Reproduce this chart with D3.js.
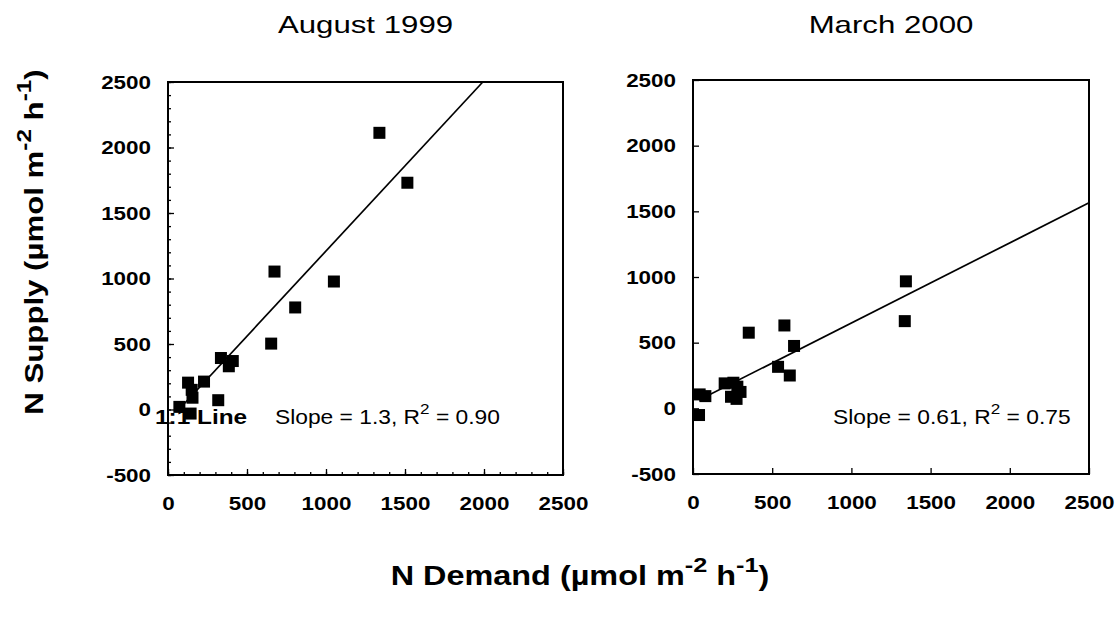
<!DOCTYPE html>
<html lang="en">
<head>
<meta charset="UTF-8">
<script src="https://cdn.jsdelivr.net/npm/d3@7"></script>
<style>
  body { margin: 0; background: #fff; }
  text { font-family: "Liberation Sans", Arial, sans-serif; fill: #000; }
</style>
</head>
<body>
<div id="fig"></div>
<script>
// values (umol m-2 h-1)
const augDemand = [1338, 1515, 674, 1050, 805, 653, 335, 385, 410, 228, 127, 150, 155, 318, 72, 143];
const augSupply = [2112, 1731, 1053, 977, 779, 503, 393, 330, 370, 213, 205, 150, 90, 71, 20, -31];
const marDemand = [1344, 1337, 577, 352, 638, 537, 611, 200, 255, 280, 300, 240, 275, 42, 78, 38];
const marSupply = [967, 664, 631, 576, 475, 316, 250, 190, 195, 165, 125, 88, 72, 106, 93, -51];
const augFit = {slope: 1.3, intercept: -90, label: "Slope = 1.3, R", r2: " = 0.90"};
const marFit = {slope: 0.61, intercept: 40, label: "Slope = 0.61, R", r2: " = 0.75"};
const xTicks = [0, 500, 1000, 1500, 2000, 2500];
const yTicks = [-500, 0, 500, 1000, 1500, 2000, 2500];
const minorTicks = d3.range(-500, 2501, 100);

const width = 1117, height = 618;
const SX = 1.18; // the scan is a bit stretched sideways

const svg = d3.select("#fig").append("svg")
    .attr("width", width)
    .attr("height", height);

function panel(opts) {
    const x = d3.scaleLinear().domain([0, 2500]).range([opts.left, opts.right]);
    const y = d3.scaleLinear().domain([-500, 2500]).range([opts.bottom, opts.top]);
    const g = svg.append("g");
    const fmt = d => String(d);

    if (opts.minor) {
        g.append("g")
            .attr("transform", `translate(0,${opts.bottom})`)
            .call(d3.axisBottom(x).tickValues(minorTicks.filter(d => d >= 0)).tickSize(-3).tickFormat(""))
            .call(a => a.select(".domain").remove());
        g.append("g")
            .attr("transform", `translate(${opts.left},0)`)
            .call(d3.axisLeft(y).tickValues(minorTicks).tickSize(-3).tickFormat(""))
            .call(a => a.select(".domain").remove());
    }

    const xa = g.append("g")
        .attr("transform", `translate(0,${opts.bottom})`)
        .call(d3.axisBottom(x).tickValues(xTicks).tickSize(-6).tickPadding(22).tickFormat(fmt))
        .call(a => a.select(".domain").remove());
    xa.selectAll("text")
        .attr("font-size", 19).attr("font-weight", "bold")
        .attr("font-family", "Liberation Sans, Arial, sans-serif")
        .attr("transform", `scale(${SX},1)`);

    const ya = g.append("g")
        .attr("transform", `translate(${opts.left},0)`)
        .call(d3.axisLeft(y).tickValues(yTicks).tickSize(-6).tickPadding(17).tickFormat(fmt))
        .call(a => a.select(".domain").remove());
    ya.selectAll("text")
        .attr("font-size", 19).attr("font-weight", "bold")
        .attr("font-family", "Liberation Sans, Arial, sans-serif")
        .attr("x", -17 / SX)
        .attr("transform", `scale(${SX},1)`);
    g.selectAll(".tick line").attr("stroke", "#000").attr("stroke-width", 1.3);

    g.append("rect")
        .attr("x", opts.left).attr("y", opts.top)
        .attr("width", opts.right - opts.left).attr("height", opts.bottom - opts.top)
        .attr("fill", "none").attr("stroke", "#000").attr("stroke-width", 2);

    // fitted line over the demand range, cut at the top of the frame
    const fit = opts.fit;
    const x0 = d3.min(opts.demand);
    const x1 = Math.min(2500, (2500 - fit.intercept) / fit.slope);
    g.append("line")
        .attr("x1", x(x0)).attr("y1", y(fit.slope * x0 + fit.intercept))
        .attr("x2", x(x1)).attr("y2", y(fit.slope * x1 + fit.intercept))
        .attr("stroke", "#000").attr("stroke-width", 1.7);

    if (opts.oneToOne) {
        g.append("text")
            .attr("transform", `translate(155,424) scale(1.22,1)`)
            .attr("font-size", 20).attr("font-weight", "bold")
            .text("1:1 Line");
    }

    const st = g.append("text")
        .attr("transform", `translate(${opts.slopeX},424) scale(1.14,1)`)
        .attr("font-size", 20);
    st.append("tspan").text(fit.label);
    st.append("tspan").attr("font-size", 15).attr("dy", -10).text("2");
    st.append("tspan").attr("dy", 10).text(fit.r2);

    const pts = opts.demand.map((d, i) => ({d: d, s: opts.supply[i]}));
    const sz = 12;
    g.selectAll(".pt")
        .data(pts)
        .join("rect")
        .attr("class", "pt")
        .attr("x", p => x(p.d) - sz / 2)
        .attr("y", p => y(p.s) - sz / 2)
        .attr("width", sz).attr("height", sz)
        .attr("fill", "#000");

    svg.append("text")
        .attr("transform", `translate(${(opts.left + opts.right) / 2},33) scale(1.3,1)`)
        .attr("text-anchor", "middle")
        .attr("font-size", 24)
        .text(opts.title);
}

panel({title: "August 1999", left: 168, right: 563, top: 82, bottom: 475,
       demand: augDemand, supply: augSupply, fit: augFit, minor: true, oneToOne: true, slopeX: 275});
panel({title: "March 2000", left: 693, right: 1089, top: 80, bottom: 474,
       demand: marDemand, supply: marSupply, fit: marFit, minor: false, oneToOne: false, slopeX: 833});

// axis titles
function unitLabel(sel, name) {
    sel.append("tspan").text(name + " (\u00b5mol m");
    sel.append("tspan").attr("font-size", "0.78em").attr("dy", "-0.6em").text("-2");
    sel.append("tspan").attr("dy", "0.47em").text(" h");
    sel.append("tspan").attr("font-size", "0.78em").attr("dy", "-0.6em").text("-1");
    sel.append("tspan").attr("dy", "0.47em").text(")");
}

svg.append("text")
    .attr("transform", `translate(43,242) rotate(-90) scale(1.2,1)`)
    .attr("text-anchor", "middle")
    .attr("font-size", 26).attr("font-weight", "bold")
    .call(unitLabel, "N Supply");

svg.append("text")
    .attr("transform", `translate(580,585) scale(1.2,1)`)
    .attr("text-anchor", "middle")
    .attr("font-size", 27).attr("font-weight", "bold")
    .call(unitLabel, "N Demand");
</script>
</body>
</html>
